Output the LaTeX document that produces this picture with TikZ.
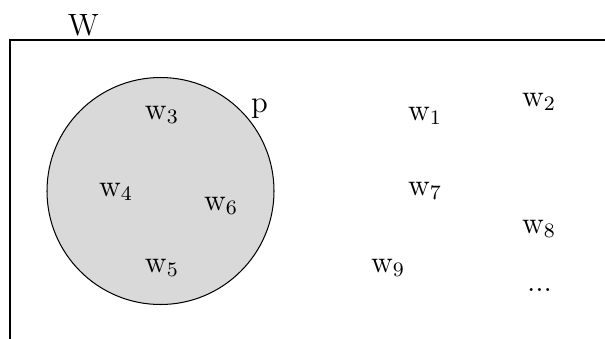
\documentclass[tikz,border=0pt]{standalone}
\begin{document}
\begin{tikzpicture}[x=0.39pt,y=-0.39pt,
  lbl/.style={anchor=base west,inner sep=0pt,outer sep=0pt,font=\large},
  frameline/.style={line width=0.4pt,black},
  region/.style={draw=black,line width=0.4pt,fill=black!15}]
\useasboundingbox (0,0) rectangle (605,338);
\clip (0,0) rectangle (605,338);
% frame W
\coordinate (fbl) at (10,345);
\coordinate (ftl) at (10,40);
\coordinate (ftr) at (615,40);
\draw[frameline] (fbl) -- (ftl) -- (ftr);
\node[lbl] (W) at (68,35) {W};
% region p
\coordinate (pc) at (160.5,191);
\draw[region] (pc) circle[radius=113.5];
\node[lbl] (p) at (251,112) {p};
% elements
\node[lbl] (w3) at (145,119) {w$_3$};
\node[lbl] (w4) at (99,196) {w$_4$};
\node[lbl] (w6) at (204,210) {w$_6$};
\node[lbl] (w5) at (145,272) {w$_5$};
\node[lbl] (w1) at (408,120) {w$_1$};
\node[lbl] (w2) at (522,106) {w$_2$};
\node[lbl] (w7) at (408,195) {w$_7$};
\node[lbl] (w8) at (522,233) {w$_8$};
\node[lbl] (w9) at (371,272) {w$_9$};
\node[lbl] (dots) at (527,291) {...};
\end{tikzpicture}
\end{document}
